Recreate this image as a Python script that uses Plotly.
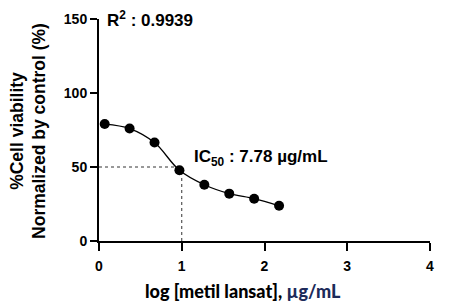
import numpy as np
import plotly.graph_objects as go

# Data
concentrations = [1.171875, 2.34375, 4.6875, 9.375, 18.75, 37.5, 75, 150]  # µg/mL
log_conc = [float(np.log10(c)) for c in concentrations]
viability = [79.0, 76.0, 66.5, 47.8, 38.0, 32.0, 28.6, 23.8]
ic50_level = 50
ic50_log = 1.0
r2_text = "R<sup>2</sup> : 0.9939"
ic50_text = "IC<sub>50</sub> : 7.78 µg/mL"
x_title = "log [metil lansat], <span style='color:#1c2b5a'>µg/mL</span>"
y_title = "%Cell viability<br>Normalized by control (%)"
x_ticks = [0, 1, 2, 3, 4]
y_ticks = [0, 50, 100, 150]

FONT = "Liberation Sans"

fig = go.Figure()

# dashed IC50 guide lines
fig.add_trace(go.Scatter(x=[0, ic50_log], y=[ic50_level, ic50_level], mode="lines",
                         line=dict(color="#333333", width=1, dash="3px,3px"),
                         hoverinfo="skip", showlegend=False, cliponaxis=False))
fig.add_trace(go.Scatter(x=[ic50_log, ic50_log], y=[0, ic50_level], mode="lines",
                         line=dict(color="#333333", width=1, dash="3px,3px"),
                         hoverinfo="skip", showlegend=False, cliponaxis=False))

# fitted curve (smooth through data)
fig.add_trace(go.Scatter(x=log_conc, y=viability, mode="lines",
                         line=dict(color="black", width=1.3, shape="spline", smoothing=1.0),
                         showlegend=False))
# points
fig.add_trace(go.Scatter(x=log_conc, y=viability, mode="markers",
                         marker=dict(color="black", size=10),
                         showlegend=False, cliponaxis=False))

fig.update_layout(
    width=460, height=308,
    margin=dict(l=99, r=30, t=19, b=67),
    paper_bgcolor="white", plot_bgcolor="white",
    showlegend=False,
    font=dict(family=FONT, color="black"),
)

fig.update_xaxes(
    range=[0, 4], tickvals=x_ticks, ticktext=[str(v) for v in x_ticks],
    showgrid=False, zeroline=False,
    showline=True, linecolor="black", linewidth=2,
    ticks="outside", ticklen=8, tickwidth=2, tickcolor="black",
    ticklabelstandoff=3,
    tickfont=dict(family=FONT, size=14, color="black", weight="bold"),
)
fig.update_yaxes(
    range=[0, 150], tickvals=y_ticks, ticktext=[str(v) for v in y_ticks],
    showgrid=False, zeroline=False,
    showline=True, linecolor="black", linewidth=2,
    ticks="outside", ticklen=7, tickwidth=2, tickcolor="black",
    tickfont=dict(family=FONT, size=14, color="black", weight="bold"),
)

# x-axis title (slightly left of plot centre, as in the reference)
fig.add_annotation(
    text=x_title, xref="paper", yref="paper", x=0.435, y=-0.225,
    xanchor="center", yanchor="middle", showarrow=False,
    font=dict(family="Lato", size=18, color="black", weight=900),
)

# y-axis title as two-line rotated annotation
fig.add_annotation(
    text=y_title, xref="paper", yref="paper", x=-0.215, y=0.495,
    xanchor="center", yanchor="middle", textangle=-90, showarrow=False,
    font=dict(family=FONT, size=17.5, color="black", weight="bold"),
)

fig.add_annotation(
    text=r2_text, xref="x", yref="y", x=0.07, y=150,
    xanchor="left", yanchor="middle", showarrow=False,
    font=dict(family=FONT, size=17, color="black", weight="bold"),
)
fig.add_annotation(
    text=ic50_text, xref="x", yref="y", x=1.12, y=56,
    xanchor="left", yanchor="middle", showarrow=False,
    font=dict(family=FONT, size=17, color="black", weight="bold"),
)

fig.write_html("out.html")
